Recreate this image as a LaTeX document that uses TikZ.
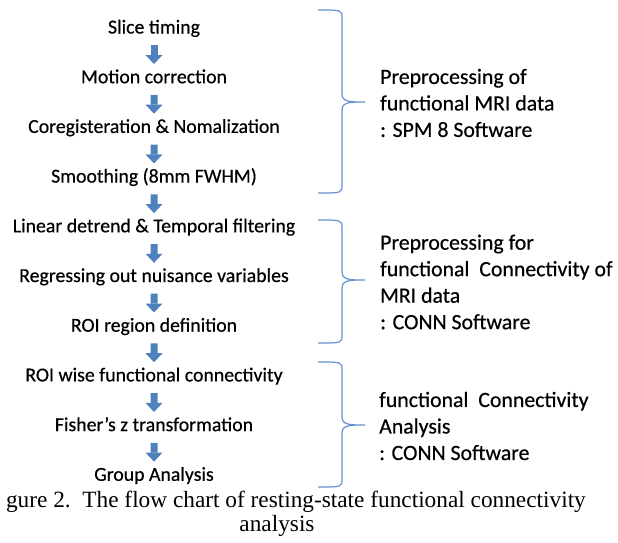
\documentclass[tikz,border=0pt]{standalone}
\usepackage{fontspec}
\setmainfont{Carlito}[FakeBold=0.45]
\newfontfamily\capfont{Liberation Serif}
\usetikzlibrary{arrows.meta}
\definecolor{flowblue}{HTML}{4F81BD}
\definecolor{braceblue}{HTML}{6590CD}
\tikzset{
  stage/.style={inner sep=0pt, text height=13pt, text depth=0pt, font=\fontsize{19.8}{22}\selectfont},
  note/.style={anchor=west, inner sep=0pt, align=left, font=\fontsize{21.8}{26.5}\selectfont},
  brc/.style={draw=braceblue, line width=1.2pt},
  capline/.style={inner sep=0pt, font=\capfont\fontsize{23.3}{24}\selectfont}
}
\begin{document}
\begin{tikzpicture}[x=1pt,y=-1pt]
\useasboundingbox (0,0) rectangle (618,542);
% steps
\node[stage] (st) at (154,27) {Slice timing}
  [level distance=49.7pt, parent anchor=south, child anchor=north,
   edge from parent/.style={draw=flowblue, line width=7pt,
     -{Triangle[width=17pt,length=9pt,line width=0pt]}, shorten <=11.5pt, shorten >=6pt}]
  child {node[stage] (mc) {Motion correction}
    child {node[stage] (cn) {Coregisteration \& Nomalization}
      child {node[stage] (sm) {Smoothing (8mm FWHM)}
        child {node[stage] (ld) {Linear detrend \& Temporal filtering}
          child {node[stage] (rn) {Regressing out nuisance variables}
            child {node[stage] (rd) {ROI region definition}
              child {node[stage] (rw) {ROI wise functional connectivity}
                child {node[stage] (fz) {Fisher’s z transformation}
                  child {node[stage] (ga) {Group Analysis}}
                }
              }
            }
          }
        }
      }
    }
  };
% braces
\draw[brc] (318,10) .. controls (342,10) .. (342,18) -- (342,94)
  .. controls (342,102) and (350,102) .. (365,102)
  .. controls (350,102) and (342,102) .. (342,110) -- (342,185)
  .. controls (342,193) .. (318,193);
\draw[brc] (318,220) .. controls (342,220) .. (342,228) -- (342,272)
  .. controls (342,280) and (350,280) .. (365,280)
  .. controls (350,280) and (342,280) .. (342,288) -- (342,335)
  .. controls (342,343) .. (318,343);
\draw[brc] (318,362) .. controls (342,362) .. (342,370) -- (342,417)
  .. controls (342,425) and (350,425) .. (365,425)
  .. controls (350,425) and (342,425) .. (342,433) -- (342,479)
  .. controls (342,487) .. (318,487);
% group labels
\node[note] (pre1) at (380,103) {Preprocessing of\\functional MRI data\\: SPM 8 Software};
\node[note] (pre2) at (380,282) {Preprocessing for\\functional\ \ Connectivity of\\MRI data\\: CONN Software};
\node[note] (fca) at (379,426) {functional\ \ Connectivity\\Analysis\\: CONN Software};
% caption
\node[capline, anchor=base east] (cap1) at (586,507) {gure 2.\ \ The flow chart of resting-state functional connectivity};
\node[capline, anchor=base] (cap2) at (277,531) {analysis};
\end{tikzpicture}
\end{document}
